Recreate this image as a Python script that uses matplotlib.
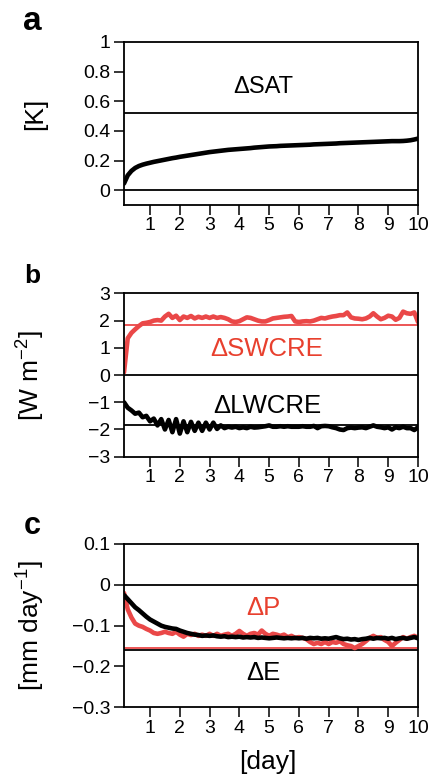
import numpy as np
import matplotlib
matplotlib.use('Agg')
import matplotlib.pyplot as plt

plt.rcParams['font.family'] = ['Liberation Sans', 'DejaVu Sans']
plt.rcParams['mathtext.default'] = 'regular'

RED = '#EA4848'
RED_TXT = '#E8402E'

# time axis: 3-hourly output, day 0.125 .. 10
days = np.arange(1, 81) * 0.125

sat = [0.045, 0.100, 0.130, 0.150, 0.163, 0.172, 0.179, 0.185,
       0.191, 0.196, 0.201, 0.206, 0.211, 0.216, 0.220, 0.225,
       0.229, 0.233, 0.237, 0.241, 0.245, 0.249, 0.253, 0.257,
       0.260, 0.263, 0.266, 0.269, 0.272, 0.274, 0.276, 0.278,
       0.280, 0.282, 0.284, 0.287, 0.289, 0.291, 0.293, 0.295,
       0.296, 0.297, 0.299, 0.300, 0.301, 0.302, 0.303, 0.304,
       0.305, 0.306, 0.307, 0.309, 0.310, 0.311, 0.312, 0.313,
       0.314, 0.315, 0.317, 0.318, 0.319, 0.320, 0.321, 0.322,
       0.323, 0.324, 0.325, 0.326, 0.327, 0.328, 0.329, 0.330,
       0.331, 0.331, 0.331, 0.332, 0.334, 0.337, 0.342, 0.348]

swcre = [0.10, 1.35, 1.55, 1.68, 1.80, 1.90, 1.92, 1.95,
         2.00, 2.02, 2.00, 2.15, 2.25, 2.10, 2.18, 2.02,
         2.15, 2.10, 2.17, 2.08, 2.14, 2.10, 2.15, 2.10,
         2.15, 2.10, 2.13, 2.10, 2.05, 1.97, 1.95, 1.98,
         2.05, 2.12, 2.10, 2.05, 2.00, 1.97, 1.97, 2.02,
         2.08, 2.10, 2.12, 2.14, 2.15, 2.17, 1.97, 1.95,
         1.97, 1.98, 1.97, 2.00, 2.05, 2.10, 2.08, 2.12,
         2.15, 2.17, 2.20, 2.20, 2.30, 2.12, 2.08, 2.07,
         2.05, 2.08, 2.15, 2.27, 2.15, 2.05, 2.10, 2.18,
         2.15, 2.03, 2.10, 2.33, 2.27, 2.25, 2.30, 1.95]

lwcre = [-1.00, -1.20, -1.30, -1.42, -1.38, -1.55, -1.50, -1.70,
         -1.60, -1.85, -1.62, -2.00, -1.65, -2.10, -1.62, -2.15,
         -1.70, -2.10, -1.72, -2.05, -1.75, -2.05, -1.75, -2.00,
         -1.75, -1.98, -1.85, -1.95, -1.90, -1.93, -1.90, -1.95,
         -1.92, -1.95, -1.90, -1.93, -1.92, -1.90, -1.88, -1.85,
         -1.90, -1.90, -1.88, -1.90, -1.88, -1.90, -1.90, -1.90,
         -1.88, -1.90, -1.90, -1.87, -1.95, -1.88, -1.87, -1.88,
         -1.92, -1.95, -2.00, -2.02, -1.95, -1.93, -1.95, -1.93,
         -1.92, -1.95, -1.90, -1.85, -1.90, -1.92, -1.95, -1.92,
         -2.00, -1.92, -1.95, -1.90, -1.95, -1.95, -2.02, -1.92]

precip = [-0.020, -0.060, -0.080, -0.095, -0.100, -0.103, -0.108, -0.112,
          -0.118, -0.120, -0.118, -0.115, -0.118, -0.120, -0.115, -0.122,
          -0.127, -0.120, -0.123, -0.120, -0.125, -0.122, -0.125, -0.120,
          -0.125, -0.120, -0.125, -0.122, -0.120, -0.125, -0.120, -0.113,
          -0.120, -0.125, -0.120, -0.118, -0.122, -0.112, -0.120, -0.125,
          -0.120, -0.122, -0.125, -0.122, -0.128, -0.125, -0.130, -0.128,
          -0.130, -0.133, -0.140, -0.145, -0.142, -0.145, -0.140, -0.145,
          -0.140, -0.142, -0.138, -0.145, -0.148, -0.150, -0.155, -0.150,
          -0.145, -0.138, -0.130, -0.125, -0.130, -0.128, -0.135, -0.140,
          -0.150, -0.142, -0.135, -0.128, -0.132, -0.128, -0.125, -0.130]

evap = [-0.025, -0.035, -0.045, -0.055, -0.062, -0.070, -0.078, -0.085,
        -0.090, -0.095, -0.100, -0.103, -0.105, -0.107, -0.108, -0.112,
        -0.115, -0.118, -0.120, -0.122, -0.123, -0.125, -0.124, -0.125,
        -0.124, -0.126, -0.127, -0.126, -0.128, -0.127, -0.128, -0.127,
        -0.129, -0.128, -0.129, -0.128, -0.130, -0.129, -0.130, -0.131,
        -0.130, -0.129, -0.130, -0.131, -0.130, -0.131, -0.130, -0.131,
        -0.130, -0.132, -0.130, -0.131, -0.130, -0.132, -0.131, -0.132,
        -0.130, -0.128, -0.131, -0.133, -0.132, -0.134, -0.133, -0.135,
        -0.133, -0.132, -0.130, -0.132, -0.130, -0.131, -0.130, -0.132,
        -0.130, -0.133, -0.131, -0.130, -0.132, -0.130, -0.128, -0.131]

# equilibrium (long-term) responses drawn as horizontal lines
sat_eq = 0.52
swcre_eq = 1.83
lwcre_eq = -1.82
p_eq = -0.155
e_eq = -0.16

xticks = list(range(1, 11))
yticks_a = [0, 0.2, 0.4, 0.6, 0.8, 1]
ylabels_a = ['0', '0.2', '0.4', '0.6', '0.8', '1']
yticks_b = [-3, -2, -1, 0, 1, 2, 3]
ylabels_b = ['\u22123', '\u22122', '\u22121', '0', '1', '2', '3']
yticks_c = [-0.3, -0.2, -0.1, 0, 0.1]
ylabels_c = ['\u22120.3', '\u22120.2', '\u22120.1', '0', '0.1']

W, H = 436, 779
fig = plt.figure(figsize=(W / 100, H / 100), dpi=100)

left, width = 124 / W, 294 / W
ax_a = fig.add_axes([left, 1 - 205 / H, width, 163 / H])
ax_b = fig.add_axes([left, 1 - 456.7 / H, width, 163.3 / H])
ax_c = fig.add_axes([left, 1 - 707.3 / H, width, 163.3 / H])


def style(ax, ylim, yt, yl, ylabel):
    ax.set_xlim(0.125, 10)
    ax.set_ylim(*ylim)
    ax.set_xticks(xticks)
    ax.set_xticklabels([str(t) for t in xticks])
    ax.set_yticks(yt)
    ax.set_yticklabels(yl)
    ax.tick_params(direction='out', length=7, width=1.1, labelsize=14,
                   top=False, right=False)
    ax.tick_params(axis='y', pad=3)
    ax.tick_params(axis='x', pad=2)
    for s in ax.spines.values():
        s.set_linewidth(1.3)
    ax.set_ylabel(ylabel, fontsize=19)
    ax.yaxis.set_label_coords(-0.262, 0.5)


# panel a
ax_a.axhline(0, color='black', lw=1.3)
ax_a.axhline(sat_eq, color='black', lw=1.3)
ax_a.plot(days, sat, color='black', lw=3.3, solid_capstyle='round')
ax_a.text(4.79, 0.659, '\u0394SAT', fontsize=17, ha='center', va='baseline')
style(ax_a, (-0.1, 1), yticks_a, ylabels_a, '[K]')
ax_a.yaxis.set_label_coords(-0.262, 0.56)

# panel b
ax_b.axhline(0, color='black', lw=1.3)
ax_b.axhline(swcre_eq, color=RED, lw=1.3)
ax_b.axhline(lwcre_eq, color='black', lw=1.3)
ax_b.plot(days, swcre, color=RED, lw=3.3, solid_capstyle='round')
ax_b.plot(days, lwcre, color='black', lw=3.3, solid_capstyle='round')
ax_b.text(4.93, 0.71, '\u0394SWCRE', fontsize=18.5, color=RED_TXT,
          ha='center', va='baseline')
ax_b.text(4.93, -1.38, '\u0394LWCRE', fontsize=18.5, color='black',
          ha='center', va='baseline')
style(ax_b, (-3, 3), yticks_b, ylabels_b, '[W m$^{-2}$]')

# panel c
ax_c.axhline(0, color='black', lw=1.3)
ax_c.axhline(e_eq, color='black', lw=1.3)
ax_c.axhline(p_eq, color=RED, lw=1.3)
ax_c.plot(days, precip, color=RED, lw=3.3, solid_capstyle='round')
ax_c.plot(days, evap, color='black', lw=3.3, solid_capstyle='round')
ax_c.text(4.82, -0.075, '\u0394P', fontsize=18.5, color=RED_TXT,
          ha='center', va='baseline')
ax_c.text(4.82, -0.232, '\u0394E', fontsize=18.5, color='black',
          ha='center', va='baseline')
style(ax_c, (-0.3, 0.1), yticks_c, ylabels_c, '[mm day$^{-1}$]')

fig.text(268 / W, 1 - 762 / H, '[day]', fontsize=19, ha='center', va='center')

fig.text(23 / W, 1 - 30 / H, 'a', fontsize=24, fontweight='bold')
fig.text(24 / W, 1 - 283 / H, 'b', fontsize=19, fontweight='bold')
fig.text(24 / W, 1 - 534 / H, 'c', fontsize=22, fontweight='bold')

fig.savefig('out.png', dpi=100)
plt.close(fig)
